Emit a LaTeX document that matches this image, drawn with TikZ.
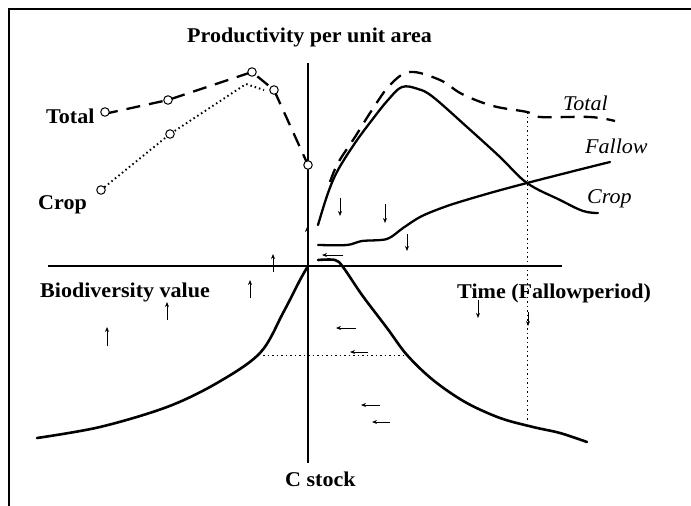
\documentclass[tikz,border=0pt]{standalone}
\usepackage{fontspec}
\setmainfont{Liberation Serif}
\newfontfamily\widefont[FakeStretch=1.05]{Liberation Serif}
\usetikzlibrary{arrows.meta}
\tikzset{
  x=1pt, y=-1pt,
  lbl/.style={font=\widefont\fontsize{21}{24}\selectfont\bfseries, inner sep=0pt, anchor=base west},
  ilbl/.style={font=\widefont\fontsize{21}{24}\selectfont\itshape, inner sep=0pt, anchor=base west},
  axis/.style={line width=1.1pt},
  curve/.style={line width=2.3pt, line join=round, line cap=round},
  bcurve/.style={line width=2.6pt, line join=round, line cap=round},
  dcurve/.style={line width=2.3pt, dash pattern=on 14pt off 9pt},
  dotcurve/.style={line width=1.9pt, dash pattern=on 1.5pt off 3pt},
  guide/.style={line width=1pt, dash pattern=on 1.5pt off 3pt},
  ptmark/.style={circle, draw, line width=1pt, fill=white, minimum size=8.5pt, inner sep=0pt},
  arr/.style={line width=0.9pt, -{Stealth[length=5pt,width=4pt]}},
}
\begin{document}
\begin{tikzpicture}
\useasboundingbox (0,0) rectangle (691,506);
% frame (open at right and bottom)
\draw[line width=1.6pt] (9,506) -- (9,9) -- (691,9);

% axes
\draw[axis] (308,63) -- (308,463);
\draw[axis] (48,266) -- (562,266);

% labels
\node[lbl] (title) at (187,42) {Productivity per unit area};
\node[lbl] (ltot) at (46,123) {Total};
\node[lbl] (lcrop) at (38,209) {Crop};
\node[lbl] (bio) at (40,297) {Biodiversity value};
\node[lbl] (time) at (457,298) {Time (Fallowperiod)};
\node[lbl] (cst) at (285,486) {C stock};
\node[ilbl] (rtot) at (563,110) {Total};
\node[ilbl] (rfal) at (585,153) {Fallow};
\node[ilbl] (rcrop) at (587,203) {Crop};

% left: total (dashed) and crop (dotted)
\draw[dotcurve] (101,190) -- (170,134) -- (246,84) -- (264,90);
\draw[dcurve] (104,114) -- (168,100) -- (252,72) -- (274,90) -- (308,165);
\foreach \p/\n in {(105,112)/t1,(168,100)/t2,(252,72)/t3,(274,90)/t4,(308,165)/t5,(101,190)/c1,(170,134)/c2}
  \node[ptmark] (\n) at \p {};

% right: crop
\draw[curve] plot[smooth, tension=0.6] coordinates {
  (318,225) (328,193) (338,170) (355,143) (372,120) (388,100) (402,87)
  (418,89) (433,97) (467,127) (500,157) (527,183) (560,200) (583,211) (598,213)};
% right: fallow
\draw[curve] plot[smooth, tension=0.5] coordinates {
  (318,245) (347,245) (362,241) (387,239) (403,228) (422,216) (450,205)
  (490,193) (527,183) (570,172) (610,162)};
% right: total (dashed)
\draw[dcurve] plot[smooth, tension=0.6] coordinates {
  (330,182) (338,163) (355,137) (372,110) (390,85) (410,72) (440,80)
  (462,94) (493,106) (527,112) (540,117) (590,117) (615,121)};

% guide lines
\draw[guide] (527,112) -- (527,420);
\draw[guide] (263,355) -- (405,355);

% biodiversity / C stock curves
\draw[bcurve] plot[smooth, tension=0.55] coordinates {
  (308,266) (300,280) (283,313) (260,353) (217,383) (167,407) (100,427) (37,438)};
\draw[bcurve] plot[smooth, tension=0.55] coordinates {
  (318,260) (335,260) (343,267) (362,295) (387,328) (407,355) (433,380)
  (465,402) (500,418) (533,427) (560,433) (587,442)};

% small arrows
\draw[arr] (340,198) -- (340,216);
\draw[arr] (385,204) -- (385,223);
\draw[arr] (407,234) -- (407,251);
\draw[arr] (478,300) -- (478,318);
\draw[arr] (528,312) -- (528,326);
\draw[arr] (273,272) -- (273,254);
\draw[arr] (250,298) -- (250,280);
\draw[arr] (167,320) -- (167,302);
\draw[arr] (107,346) -- (107,327);
\draw[arr] (307,240) -- (307,227);
\draw[arr] (343,255) -- (322,255);
\draw[arr] (356,328) -- (336,328);
\draw[arr] (368,352) -- (350,352);
\draw[arr] (380,405) -- (361,405);
\draw[arr] (390,422) -- (372,422);
\end{tikzpicture}
\end{document}
